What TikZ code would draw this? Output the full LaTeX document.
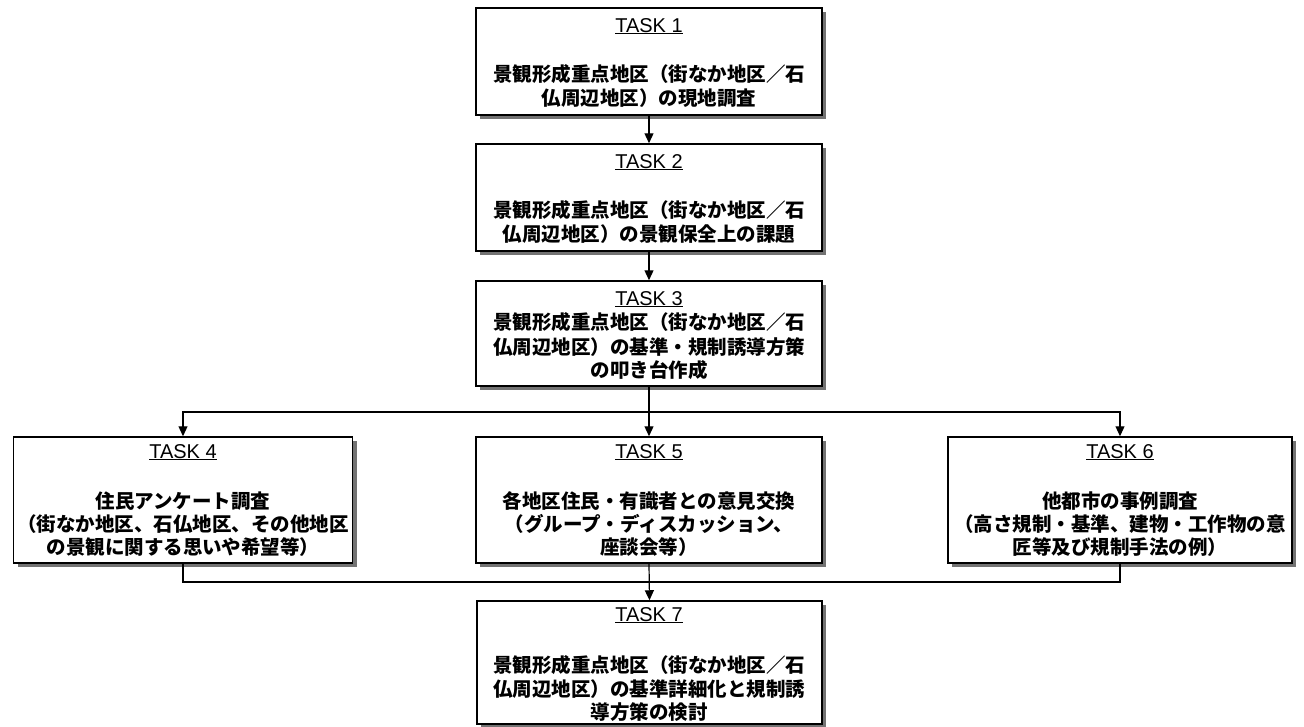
\documentclass[tikz,border=0pt]{standalone}
\usepackage{fontspec}
\setmainfont{Liberation Sans}
\newfontfamily\jp{Noto Sans CJK JP}
\usetikzlibrary{shadows,arrows.meta}
\tikzset{
  box/.style={draw=black, line width=1.5pt, fill=white, rectangle, inner sep=0pt,
    drop shadow={shadow xshift=4pt, shadow yshift=-4pt, fill=black!55, opacity=1}},
  tasklbl/.style={font=\fontsize{20}{24}\selectfont, inner sep=0pt, anchor=base},
  jptxt/.style={font=\jp\bfseries\fontsize{19.5}{23}\selectfont, inner sep=0pt, anchor=base},
  conn/.style={line width=1.2pt, draw=black},
  arr/.style={conn, -{Triangle[length=10pt,width=9pt]}}
}
\begin{document}
\begin{tikzpicture}[x=1pt,y=-1pt]
\useasboundingbox (0,0) rectangle (1304,726);
\clip (0,0) rectangle (1304,726);
% boxes
\node[box, minimum width=346pt, minimum height=107pt] (t1) at (649,61.5) {};
\node[box, minimum width=346pt, minimum height=107pt] (t2) at (649,197.5) {};
\node[box, minimum width=346pt, minimum height=105pt] (t3) at (649,333.5) {};
\node[box, minimum width=339pt, minimum height=126pt] (t4) at (183,500) {};
\node[box, minimum width=346pt, minimum height=126pt] (t5) at (649,500) {};
\node[box, minimum width=344pt, minimum height=126pt] (t6) at (1120,500) {};
\node[box, minimum width=345pt, minimum height=123pt] (t7) at (649.5,662.5) {};
% texts
\node[tasklbl] (l1) at (649,32) {\underline{TASK 1}};
\node[jptxt] (l1a) at (649,81.5) {景観形成重点地区（街なか地区／石};
\node[jptxt] (l1b) at (649,105.5) {仏周辺地区）の現地調査};

\node[tasklbl] (l2) at (649,168) {\underline{TASK 2}};
\node[jptxt] (l2a) at (649,217.5) {景観形成重点地区（街なか地区／石};
\node[jptxt] (l2b) at (649,241.5) {仏周辺地区）の景観保全上の課題};

\node[tasklbl] (l3) at (649,305) {\underline{TASK 3}};
\node[jptxt] (l3a) at (649,329.5) {景観形成重点地区（街なか地区／石};
\node[jptxt] (l3b) at (649,354.5) {仏周辺地区）の基準・規制誘導方策};
\node[jptxt] (l3c) at (649,377.5) {の叩き台作成};

\node[tasklbl] (l4) at (183,458) {\underline{TASK 4}};
\node[jptxt] (l4a) at (183,508.5) {住民アンケート調査};
\node[jptxt] (l4b) at (183,531) {（街なか地区、石仏地区、その他地区};
\node[jptxt] (l4c) at (183,554) {の景観に関する思いや希望等）};

\node[tasklbl] (l5) at (649,458) {\underline{TASK 5}};
\node[jptxt] (l5a) at (649,508.5) {各地区住民・有識者との意見交換};
\node[jptxt] (l5b) at (649,531) {（グループ・ディスカッション、};
\node[jptxt] (l5c) at (649,554) {座談会等）};

\node[tasklbl] (l6) at (1120,458) {\underline{TASK 6}};
\node[jptxt] (l6a) at (1120,508.5) {他都市の事例調査};
\node[jptxt] (l6b) at (1120,531) {（高さ規制・基準、建物・工作物の意};
\node[jptxt] (l6c) at (1120,554) {匠等及び規制手法の例）};

\node[tasklbl] (l7) at (649,621) {\underline{TASK 7}};
\node[jptxt] (l7a) at (649,672.5) {景観形成重点地区（街なか地区／石};
\node[jptxt] (l7b) at (649,696.5) {仏周辺地区）の基準詳細化と規制誘};
\node[jptxt] (l7c) at (649,719.5) {導方策の検討};
% connectors
\coordinate (j1) at (649,412);
\coordinate (j2) at (649,582);
\draw[arr] (t1.south) -- (t2.north);
\draw[arr] (t2.south) -- (t3.north);
\draw[conn] (t3.south) -- (j1);
\draw[arr] (j1) -| (t4.north);
\draw[arr] (j1) -| (t6.north);
\draw[arr] (j1) -- (t5.north);
\draw[conn] (t4.south) |- (j2);
\draw[conn] (t6.south) |- (j2);
\draw[arr] (t5.south) -- (t7.north);
\end{tikzpicture}
\end{document}
